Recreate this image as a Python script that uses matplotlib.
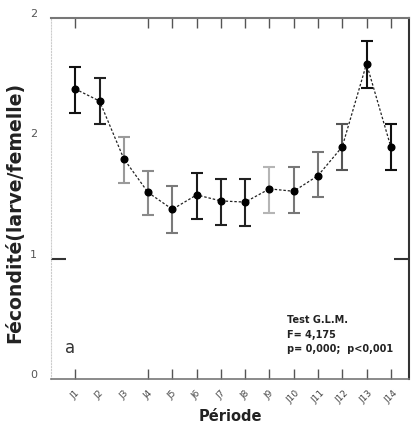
import matplotlib
matplotlib.use("Agg")
import matplotlib.pyplot as plt
import numpy as np

periods = ["J1", "J2", "J3", "J4", "J5", "J6", "J7", "J8", "J9", "J10", "J11", "J12", "J13", "J14"]
fecondite = [2.41, 2.31, 1.83, 1.55, 1.41, 1.53, 1.48, 1.47, 1.58, 1.56, 1.69, 1.93, 2.62, 1.93]
err_low = [0.20, 0.19, 0.20, 0.19, 0.20, 0.20, 0.20, 0.20, 0.20, 0.18, 0.18, 0.19, 0.20, 0.19]
err_high = [0.18, 0.19, 0.18, 0.18, 0.19, 0.18, 0.18, 0.19, 0.18, 0.20, 0.20, 0.19, 0.19, 0.19]
ytick_values = [0, 1, 2, 3]
ytick_labels = ["0", "1", "2", "2"]
stats_text = ["Test G.L.M.", "F= 4,175", "p= 0,000;  p<0,001"]

bar_colors = ["#111111", "#222222", "#9a9a9a", "#8a8a8a", "#7a7a7a", "#1a1a1a", "#222222",
              "#222222", "#b5b5b5", "#777777", "#777777", "#555555", "#111111", "#111111"]

fig = plt.figure(figsize=(4.11, 4.27), dpi=100)
ax = fig.add_axes([51/411, 1-380/427, 358/411, 361/427])

x = np.arange(1, len(periods) + 1)
ax.plot(x, fecondite, linestyle=(0, (2, 1.5)), color="#222222", linewidth=0.9, zorder=2)
for xi, yi, lo, hi, c in zip(x, fecondite, err_low, err_high, bar_colors):
    ax.errorbar([xi], [yi], yerr=[[lo], [hi]], fmt="none", ecolor=c,
                elinewidth=1.5, capsize=4, capthick=1.5, zorder=3)
ax.plot(x, fecondite, "o", color="black", markersize=4.8, zorder=4)

ax.set_xlim(0, 14.75)
ax.set_ylim(0, 3)

ax.set_xticks(x)
ax.set_xticklabels(periods, rotation=45, fontsize=6.5, color="#444444",
                   ha="center", va="top")
ax.tick_params(axis="x", direction="in", length=7, width=1, color="#555555",
               top=True, bottom=True, pad=6)
for i, t in enumerate(ax.xaxis.get_major_ticks()):
    if i in (1, 2):
        t.tick1line.set_visible(False)
        t.tick2line.set_visible(False)

ax.set_yticks(ytick_values)
ax.set_yticklabels(ytick_labels, fontsize=8, color="#555555")
ax.tick_params(axis="y", direction="in", length=11, width=1.5, color="#333333",
               left=True, right=True, pad=10)
for i, t in enumerate(ax.yaxis.get_major_ticks()):
    if i != 1:
        t.tick1line.set_visible(False)
        t.tick2line.set_visible(False)
for lbl in ax.get_yticklabels():
    lbl.set_verticalalignment("bottom")

ax.spines["left"].set_color("#cccccc")
ax.spines["left"].set_linestyle(":")
ax.spines["top"].set_color("#777777")
ax.spines["top"].set_linewidth(1.5)
ax.spines["bottom"].set_color("#777777")
ax.spines["bottom"].set_linewidth(1.2)
ax.spines["right"].set_color("#333333")
ax.spines["right"].set_linewidth(1.5)

fig.text(15/411, 1-212/427, "Fécondité(larve/femelle)", rotation=90, fontsize=13.6,
         fontweight="bold", ha="center", va="center", color="#222222")
ax.set_xlabel("Période", fontsize=10.5, fontweight="bold", labelpad=3, color="#222222")

ax.text(0.66, 0.072, "\n".join(stats_text), transform=ax.transAxes,
        fontsize=7, fontweight="bold", color="#222222", va="bottom", ha="left",
        linespacing=1.55)
ax.text(0.04, 0.065, "a", transform=ax.transAxes, fontsize=12, color="#333333",
        va="bottom", ha="left")

fig.savefig("out.png", dpi=100)
